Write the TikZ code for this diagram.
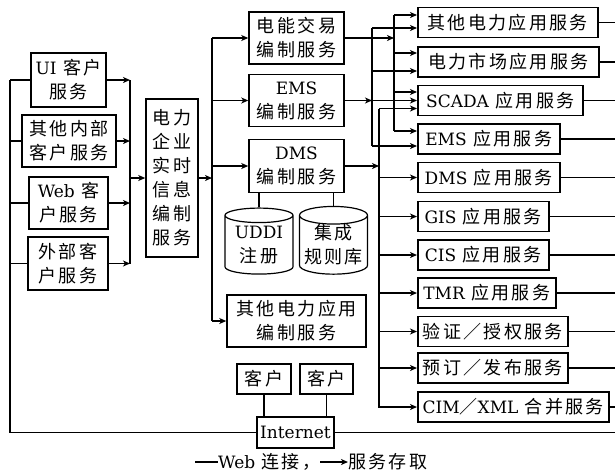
\documentclass[tikz,border=0pt]{standalone}
\usepackage{fontspec}
\setmainfont{DejaVu Serif}
\newfontfamily\cjk[LetterSpace=13]{Noto Sans CJK SC}
\usetikzlibrary{arrows.meta,shapes.geometric}
\newcommand{\lat}[1]{{\rmfamily\fontsize{17}{24}\selectfont #1}}
\tikzset{
    wire/.style={line width=1.5pt},
    svc_arrow/.style={wire,-{Stealth[length=7pt,width=6pt,inset=2pt]}},
    svc_box/.style={draw,line width=1.5pt,inner sep=0pt,align=center,font=\cjk\fontsize{18}{24}\selectfont},
    app_box/.style={svc_box,anchor=west,minimum height=30pt},
    store/.style={svc_box,cylinder,shape border rotate=90,aspect=0.3,line width=1.2pt,minimum width=68pt,minimum height=66pt},
    legend_text/.style={inner sep=0pt,anchor=west,font=\cjk\fontsize{18}{24}\selectfont},
}
\begin{document}
\begin{tikzpicture}[x=1pt,y=-1pt]
  \useasboundingbox (0,0) rectangle (615,472);
  \coordinate (lb) at (10,0);
  \coordinate (lbus) at (130,0);
  \coordinate (mbus) at (212,0);
  \coordinate (busA) at (394,0);
  \coordinate (busB) at (372,0);
  \coordinate (busC) at (379,0);
  \coordinate (edge) at (615,0);

  \node[svc_box,minimum width=75pt,minimum height=54pt] (ui) at (68.5,80) {\lat{UI} 客户\\服务};
  \node[svc_box,minimum width=94pt,minimum height=52pt] (inner) at (69,141) {其他内部\\客户服务};
  \node[svc_box,minimum width=79pt,minimum height=52pt] (webc) at (68.5,203) {\lat{Web} 客\\户服务};
  \node[svc_box,minimum width=80pt,minimum height=53pt] (ext) at (68,263.5) {外部客\\户服务};
  \node[svc_box,minimum width=52pt,minimum height=158pt] (core) at (172,178) {电力\\企业\\实时\\信息\\编制\\服务};

  \node[svc_box,minimum width=95pt,minimum height=52pt] (ee) at (296.5,38) {电能交易\\编制服务};
  \node[svc_box,minimum width=95pt,minimum height=52pt] (emsc) at (296.5,100.5) {\lat{EMS}\\编制服务};
  \node[svc_box,minimum width=95pt,minimum height=53pt] (dmsc) at (296.5,166) {\lat{DMS}\\编制服务};
  \node[store] (uddi) at (259,245) {\lat{UDDI}\\注册};
  \node[store] (rules) at (333.5,245) {集成\\规则库};
  \node[svc_box,minimum width=139pt,minimum height=52pt] (oc) at (296.5,321) {其他电力应用\\编制服务};

  \node[app_box,minimum width=180pt] (r1) at (417,22.5) {其他电力应用服务};
  \node[app_box,minimum width=181pt] (r2) at (417,62) {电力市场应用服务};
  \node[app_box,minimum width=165pt] (r3) at (417,100.5) {\lat{SCADA} 应用服务};
  \node[app_box,minimum width=142pt] (r4) at (417,139) {\lat{EMS} 应用服务};
  \node[app_box,minimum width=142pt] (r5) at (417,177.5) {\lat{DMS} 应用服务};
  \node[app_box,minimum width=131pt] (r6) at (417,216.5) {\lat{GIS} 应用服务};
  \node[app_box,minimum width=131pt] (r7) at (417,255) {\lat{CIS} 应用服务};
  \node[app_box,minimum width=138pt] (r8) at (417,293) {\lat{TMR} 应用服务};
  \node[app_box,minimum width=150pt] (r9) at (417,331.5) {验证／授权服务};
  \node[app_box,minimum width=150pt] (r10) at (417,368) {预订／发布服务};
  \node[app_box,minimum width=191pt] (r11) at (417,407) {\lat{CIM}／\lat{XML} 合并服务};

  \node[svc_box,minimum width=54pt,minimum height=30pt] (c1) at (264,379) {客户};
  \node[svc_box,minimum width=53pt,minimum height=30pt] (c2) at (326.5,379) {客户};
  \node[svc_box,minimum width=77pt,minimum height=31pt] (net) at (295.5,432.5) {\lat{Internet}};

  \draw[wire] (ui.west -| lb) |- (net.west);
  \draw[wire] (ui.west) -- (ui.west -| lb);
  \draw[wire] (inner.west) -- (inner.west -| lb);
  \draw[wire] (webc.west) -- (webc.west -| lb);
  \draw[wire] (ext.west) -- (ext.west -| lb);
  \draw[wire] (net.east) -- (net.east -| edge);
  \draw[wire] (c1.south) -- (c1.south |- net.north);
  \draw[wire] (c2.south) -- (c2.south |- net.north);
  \draw[wire] (r1.east) -- (r1.east -| edge);
  \draw[wire] (r2.east) -- (r2.east -| edge);
  \draw[wire] (r3.east) -- (r3.east -| edge);
  \draw[wire] (r4.east) -- (r4.east -| edge);
  \draw[wire] (r5.east) -- (r5.east -| edge);
  \draw[wire] (r6.east) -- (r6.east -| edge);
  \draw[wire] (r7.east) -- (r7.east -| edge);
  \draw[wire] (r8.east) -- (r8.east -| edge);
  \draw[wire] (r9.east) -- (r9.east -| edge);
  \draw[wire] (r10.east) -- (r10.east -| edge);
  \draw[wire] (r11.east) -- (r11.east -| edge);

  \draw[svc_arrow] (ui.east) -- (ui.east -| lbus);
  \draw[svc_arrow] (inner.east) -- (inner.east -| lbus);
  \draw[svc_arrow] (webc.east) -- (webc.east -| lbus);
  \draw[svc_arrow] (ext.east) -- (ext.east -| lbus);
  \draw[wire] (ui.east -| lbus) -- (ext.east -| lbus);
  \draw[svc_arrow] (core.west -| lbus) -- (core.west);
  \draw[svc_arrow] (core.east) -- (core.east -| mbus);
  \draw[wire] (ee.west -| mbus) -- (oc.west -| mbus);
  \draw[svc_arrow] (ee.west -| mbus) -- (ee.west);
  \draw[svc_arrow] (emsc.west -| mbus) -- (emsc.west);
  \draw[svc_arrow] (dmsc.west -| mbus) -- (dmsc.west);
  \draw[svc_arrow] (oc.west -| mbus) -- (oc.west);
  \draw[wire] (uddi.north) -- (uddi.north |- dmsc.south);
  \draw[wire] (rules.north) -- (rules.north |- dmsc.south);

  \draw[svc_arrow] (ee.east) -- (ee.east -| busA);
  \draw[wire] (busA |- 0,15) -- (busA |- 0,131);
  \draw[svc_arrow] (busA |- 0,15) -- (r1.west |- 0,15);
  \draw[svc_arrow] (busA |- 0,53) -- (r2.west |- 0,53);
  \draw[svc_arrow] (busA |- 0,92) -- (r3.west |- 0,92);
  \draw[svc_arrow] (busA |- 0,131) -- (r4.west |- 0,131);

  \draw[svc_arrow] (emsc.east) -- (emsc.east -| busB);
  \draw[wire] (busB |- 0,28) -- (busB |- 0,146);
  \draw[svc_arrow] (busB |- 0,28) -- (r1.west |- 0,28);
  \draw[svc_arrow] (busB |- 0,71) -- (r2.west |- 0,71);
  \draw[svc_arrow] (emsc.east -| busB) -- (r3.west);
  \draw[svc_arrow] (busB |- 0,146) -- (r4.west |- 0,146);

  \draw[svc_arrow] (dmsc.east) -- (dmsc.east -| busC);
  \draw[svc_arrow] (busC |- 0,108.5) -- (r3.west |- 0,108.5);
  \draw[svc_arrow] (busC |- 0,108.5) |- (r11.west);
  \draw[svc_arrow] (r5.west -| busC) -- (r5.west);
  \draw[svc_arrow] (r6.west -| busC) -- (r6.west);
  \draw[svc_arrow] (r7.west -| busC) -- (r7.west);
  \draw[svc_arrow] (r8.west -| busC) -- (r8.west);
  \draw[svc_arrow] (r9.west -| busC) -- (r9.west);
  \draw[svc_arrow] (r10.west -| busC) -- (r10.west);

  \coordinate (lg) at (195,462);
  \node[legend_text] (lgweb) at (218,462) {\lat{Web} 连接，};
  \node[legend_text] (lgsvc) at (348,462) {服务存取};
  \draw[wire] (lg) -- (lgweb.west);
  \draw[svc_arrow] (lgweb.east) -- (lgsvc.west);
\end{tikzpicture}
\end{document}
